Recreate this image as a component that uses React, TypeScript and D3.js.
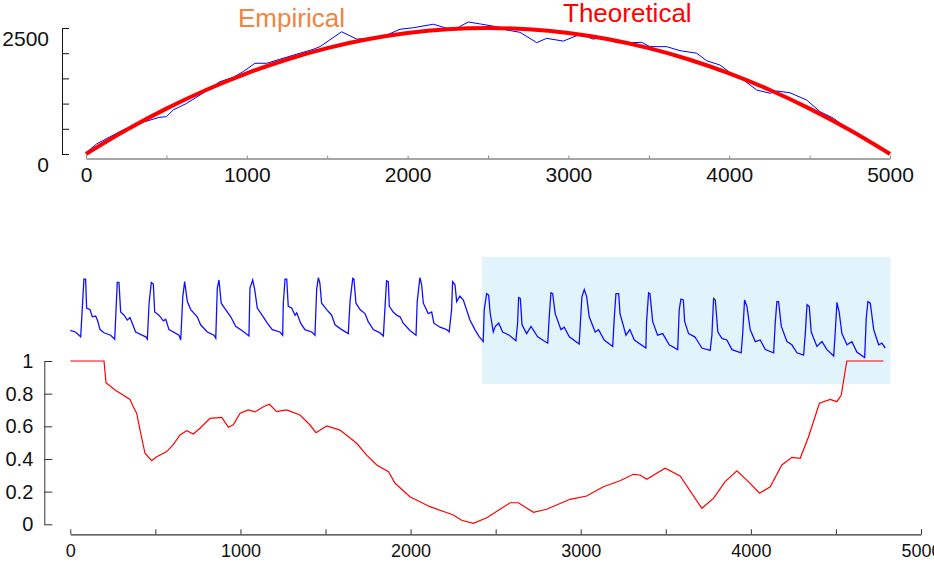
import React, { useEffect, useRef } from 'react';
import * as d3 from 'd3';

// top panel: empirical vs theoretical
const topXTicks = [0, 500, 1000, 1500, 2000, 2500, 3000, 3500, 4000, 4500, 5000];
const topYTicks = [0, 500, 1000, 1500, 2000, 2500];
const topYLabelled = [0, 2500];

const empirical: [number, number][] = [
  [0, 25], [66, 200], [211, 445], [315, 595], [460, 730], [500, 740], [543, 875], [626, 1005],
  [709, 1170], [833, 1435], [915, 1520], [978, 1635], [1051, 1800], [1124, 1800], [1206, 1880],
  [1331, 2000], [1412, 2075], [1455, 2130], [1590, 2425], [1683, 2280], [1787, 2295], [1870, 2360],
  [1953, 2475], [2036, 2505], [2160, 2575], [2243, 2495], [2305, 2495], [2378, 2620], [2461, 2575],
  [2554, 2525], [2616, 2460], [2699, 2415], [2803, 2210], [2865, 2295], [2968, 2240], [3072, 2375],
  [3155, 2280], [3217, 2315], [3300, 2210], [3383, 2210], [3456, 2215], [3507, 2130], [3611, 2130],
  [3694, 2050], [3798, 2000], [3860, 1850], [3943, 1765], [4005, 1615], [4088, 1470], [4171, 1270],
  [4254, 1205], [4296, 1250], [4378, 1215], [4482, 1070], [4565, 840], [4648, 710], [4731, 510],
  [4813, 345], [4896, 210], [4990, 15],
];

const theoretical: [number, number][] = [
  [0, 0], [250, 475], [500, 900], [750, 1275], [1000, 1600], [1250, 1875], [1500, 2100],
  [1750, 2275], [2000, 2400], [2250, 2475], [2500, 2500], [2750, 2475], [3000, 2400],
  [3250, 2275], [3500, 2100], [3750, 1875], [4000, 1600], [4250, 1275], [4500, 900],
  [4750, 475], [5000, 0],
];

// bottom panel
const botXTicks = [0, 500, 1000, 1500, 2000, 2500, 3000, 3500, 4000, 4500, 5000];
const botYTicks = [0, 0.2, 0.4, 0.6, 0.8, 1];
const highlight = [2420, 4820];

const matchProb: [number, number][] = [
  [0, 1], [198, 1], [210, 0.867], [263, 0.822], [351, 0.765], [370, 0.72], [390, 0.68], [410, 0.577],
  [439, 0.435], [478, 0.39], [508, 0.414], [567, 0.445], [606, 0.49], [645, 0.547], [684, 0.573],
  [723, 0.553], [762, 0.588], [821, 0.649], [890, 0.655], [929, 0.594], [958, 0.61], [998, 0.68],
  [1046, 0.7], [1085, 0.688], [1135, 0.72], [1170, 0.735], [1213, 0.69], [1272, 0.7], [1350, 0.669],
  [1409, 0.608], [1444, 0.561], [1507, 0.602], [1585, 0.577], [1683, 0.496], [1742, 0.424],
  [1801, 0.363], [1870, 0.322], [1909, 0.251], [1996, 0.169], [2114, 0.108], [2251, 0.057],
  [2300, 0.025], [2369, 0.006], [2448, 0.04], [2585, 0.132], [2634, 0.132], [2722, 0.073],
  [2800, 0.092], [2937, 0.153], [3035, 0.173], [3133, 0.23], [3231, 0.267], [3309, 0.306],
  [3348, 0.302], [3388, 0.276], [3496, 0.343], [3584, 0.296], [3712, 0.098], [3780, 0.159],
  [3849, 0.261], [3918, 0.328], [3996, 0.251], [4051, 0.19], [4114, 0.23], [4182, 0.363],
  [4241, 0.41], [4290, 0.404], [4339, 0.536], [4403, 0.741], [4466, 0.765], [4505, 0.751],
  [4531, 0.79], [4564, 1], [4780, 1],
];

const pulse: [number, number][] = [
  [0, 0.37], [30, 0.35], [61, 0.29], [70, 0.63], [80, 1.01], [90, 1.01], [96, 0.65], [116, 0.63],
  [129, 0.54], [149, 0.55], [159, 0.5], [175, 0.38], [198, 0.34], [237, 0.31], [261, 0.26],
  [267, 0.54], [276, 0.97], [286, 0.97], [296, 0.6], [316, 0.56], [335, 0.5], [351, 0.53],
  [364, 0.46], [384, 0.35], [443, 0.29], [453, 0.26],
  [463, 0.71], [476, 0.97], [488, 0.95], [496, 0.6], [521, 0.56], [547, 0.49], [561, 0.51],
  [580, 0.38], [639, 0.31], [649, 0.25],
  [661, 0.79], [672, 0.98], [688, 0.73], [708, 0.63], [746, 0.54], [766, 0.44], [805, 0.35],
  [845, 0.31], [855, 0.27],
  [864, 0.9], [874, 1.0], [887, 0.71], [913, 0.63], [943, 0.54], [972, 0.42], [1021, 0.35], [1050, 0.3],
  [1056, 0.9], [1072, 1.0], [1084, 0.88], [1099, 0.65], [1134, 0.54], [1158, 0.46], [1187, 0.38],
  [1232, 0.35], [1248, 0.31],
  [1252, 0.71], [1262, 1.01], [1272, 1.01], [1281, 0.67], [1301, 0.65], [1321, 0.56], [1331, 0.59],
  [1354, 0.46], [1379, 0.38], [1419, 0.35], [1438, 0.31],
  [1448, 0.88], [1458, 1.03], [1467, 0.96], [1477, 0.71], [1507, 0.63], [1536, 0.56], [1556, 0.44],
  [1595, 0.38], [1634, 0.33],
  [1644, 0.73], [1660, 1.02], [1667, 1.01], [1679, 0.71], [1703, 0.63], [1732, 0.58], [1751, 0.48],
  [1781, 0.38], [1820, 0.34], [1840, 0.3],
  [1850, 0.67], [1859, 0.99], [1869, 0.98], [1875, 0.67], [1898, 0.6], [1918, 0.56], [1938, 0.54],
  [1957, 0.46], [1996, 0.37], [2032, 0.31],
  [2039, 0.73], [2055, 1.03], [2065, 0.94], [2075, 0.71], [2104, 0.58], [2124, 0.6], [2137, 0.46],
  [2173, 0.41], [2212, 0.38], [2227, 0.35],
  [2241, 0.63], [2247, 0.98], [2261, 0.94], [2271, 0.73], [2290, 0.8], [2310, 0.75], [2349, 0.5],
  [2378, 0.38], [2404, 0.29], [2427, 0.23],
  [2433, 0.63], [2447, 0.83], [2459, 0.81], [2467, 0.6], [2486, 0.35], [2498, 0.42], [2518, 0.46],
  [2541, 0.35], [2580, 0.31], [2619, 0.24],
  [2629, 0.46], [2635, 0.78], [2645, 0.77], [2655, 0.44], [2682, 0.33], [2708, 0.42], [2747, 0.29],
  [2806, 0.21],
  [2815, 0.54], [2825, 0.84], [2835, 0.83], [2850, 0.58], [2884, 0.38], [2903, 0.41], [2933, 0.29],
  [2991, 0.2],
  [3007, 0.79], [3021, 0.88], [3035, 0.79], [3050, 0.54], [3085, 0.35], [3105, 0.38], [3138, 0.25],
  [3188, 0.17],
  [3197, 0.52], [3207, 0.83], [3223, 0.83], [3231, 0.58], [3266, 0.31], [3289, 0.38], [3315, 0.25],
  [3383, 0.15],
  [3387, 0.48], [3399, 0.84], [3407, 0.83], [3423, 0.48], [3452, 0.31], [3482, 0.33], [3520, 0.19],
  [3570, 0.13],
  [3579, 0.63], [3589, 0.76], [3603, 0.75], [3611, 0.48], [3634, 0.33], [3670, 0.29], [3683, 0.25],
  [3712, 0.15], [3761, 0.12],
  [3771, 0.31], [3781, 0.77], [3791, 0.75], [3806, 0.35], [3830, 0.27], [3859, 0.25], [3889, 0.13],
  [3943, 0.09],
  [3952, 0.33], [3963, 0.75], [3977, 0.67], [3996, 0.38], [4026, 0.23], [4055, 0.25], [4085, 0.13],
  [4134, 0.09],
  [4143, 0.46], [4153, 0.73], [4163, 0.73], [4179, 0.42], [4212, 0.23], [4241, 0.19], [4271, 0.09],
  [4310, 0.06],
  [4320, 0.33], [4330, 0.69], [4343, 0.67], [4355, 0.35], [4388, 0.17], [4418, 0.23], [4447, 0.13],
  [4487, 0.05],
  [4496, 0.35], [4506, 0.72], [4519, 0.6], [4535, 0.33], [4565, 0.19], [4594, 0.23], [4623, 0.1],
  [4669, 0.03],
  [4678, 0.52], [4688, 0.73], [4702, 0.71], [4722, 0.38], [4751, 0.19], [4770, 0.21], [4790, 0.15],
];

const FONT = '"Liberation Sans", Arial, Helvetica, sans-serif';

const App = () => {
  const svgRef = useRef<SVGSVGElement>(null);

  useEffect(() => {
    const svg = d3.select(svgRef.current);
    svg.selectAll('*').remove();

    // ---- top panel ----
    const xTop = d3.scaleLinear().domain([0, 5000]).range([86, 890]);
    const yTop = d3.scaleLinear().domain([0, 2500]).range([154, 28]);

    const yAxisTop = svg.append('g')
      .attr('transform', 'translate(62,0)')
      .call(d3.axisLeft(yTop)
        .tickValues(topYTicks)
        .tickSizeInner(-7)
        .tickSizeOuter(0)
        .tickPadding(13)
        .tickFormat(d => (topYLabelled.includes(+d) ? String(d) : '')));
    yAxisTop.select('.domain').attr('stroke', '#111');
    yAxisTop.selectAll('.tick line').attr('stroke', '#111');
    yAxisTop.selectAll('text')
      .attr('dy', '0.85em')
      .style('font-size', '21px')
      .style('font-family', FONT)
      .attr('fill', '#111');

    const xAxisTop = svg.append('g')
      .attr('transform', 'translate(0,158.5)')
      .call(d3.axisBottom(xTop)
        .tickValues(topXTicks)
        .tickSizeInner(-3)
        .tickSizeOuter(0)
        .tickPadding(9)
        .tickFormat(d => (+d % 1000 === 0 ? String(d) : '')));
    xAxisTop.select('.domain').attr('stroke', '#888').attr('stroke-width', 1.5);
    xAxisTop.selectAll('.tick line').attr('stroke', '#888');
    xAxisTop.selectAll('text')
      .style('font-size', '21px')
      .style('font-family', FONT)
      .attr('fill', '#111');

    const lineTop = d3.line<[number, number]>()
      .x(d => xTop(d[0]))
      .y(d => yTop(d[1]));

    svg.append('path')
      .datum(empirical)
      .attr('d', lineTop)
      .attr('fill', 'none')
      .attr('stroke', '#0000ff')
      .attr('stroke-width', 1);

    svg.append('path')
      .datum(theoretical)
      .attr('d', lineTop.curve(d3.curveMonotoneX))
      .attr('fill', 'none')
      .attr('stroke', '#ff0000')
      .attr('stroke-width', 4);

    svg.append('text')
      .attr('x', 238)
      .attr('y', 27)
      .text('Empirical')
      .style('font-size', '26px')
      .style('font-family', FONT)
      .attr('fill', '#f08440');

    svg.append('text')
      .attr('x', 563)
      .attr('y', 22)
      .text('Theoretical')
      .style('font-size', '26px')
      .style('font-family', FONT)
      .attr('fill', '#ff0000');

    // ---- bottom panel ----
    const xBot = d3.scaleLinear().domain([0, 5000]).range([70.3, 921]);
    const yBot = d3.scaleLinear().domain([0, 1]).range([524.3, 361]);
    const ySig = d3.scaleLinear().domain([0, 1]).range([360, 280]);

    svg.append('rect')
      .attr('x', xBot(highlight[0]))
      .attr('y', 257)
      .attr('width', xBot(highlight[1]) - xBot(highlight[0]))
      .attr('height', 127)
      .attr('fill', '#e1f4fc');

    const yAxisBot = svg.append('g')
      .attr('transform', 'translate(44.3,0)')
      .call(d3.axisLeft(yBot)
        .tickValues(botYTicks)
        .tickSizeInner(-8)
        .tickSizeOuter(0)
        .tickPadding(11)
        .tickFormat(d3.format('~g')));
    yAxisBot.select('.domain').attr('stroke', '#333');
    yAxisBot.selectAll('.tick line').attr('stroke', '#333');
    yAxisBot.selectAll('text')
      .style('font-size', '20px')
      .style('font-family', FONT)
      .attr('fill', '#111');

    const xAxisBot = svg.append('g')
      .attr('transform', 'translate(0,534.3)')
      .call(d3.axisBottom(xBot)
        .tickValues(botXTicks)
        .tickSizeInner(-5)
        .tickSizeOuter(0)
        .tickPadding(10)
        .tickFormat(d => (+d % 1000 === 0 ? String(d) : '')));
    xAxisBot.select('.domain').attr('stroke', '#333').attr('stroke-width', 1.3);
    xAxisBot.selectAll('.tick line').attr('stroke', '#333');
    xAxisBot.selectAll('text')
      .style('font-size', '18px')
      .style('font-family', FONT)
      .attr('fill', '#111');

    svg.append('path')
      .datum(pulse)
      .attr('d', d3.line<[number, number]>().x(d => xBot(d[0])).y(d => ySig(d[1])))
      .attr('fill', 'none')
      .attr('stroke', '#1010ff')
      .attr('stroke-width', 1.3);

    svg.append('path')
      .datum(matchProb)
      .attr('d', d3.line<[number, number]>().x(d => xBot(d[0])).y(d => yBot(d[1])))
      .attr('fill', 'none')
      .attr('stroke', '#ff0000')
      .attr('stroke-width', 1.2);
  }, []);

  return (
    <svg
      ref={svgRef}
      width={934}
      height={562}
      style={{ position: 'absolute', left: 0, top: 0, background: '#fff' }}
    />
  );
};

export default App;
